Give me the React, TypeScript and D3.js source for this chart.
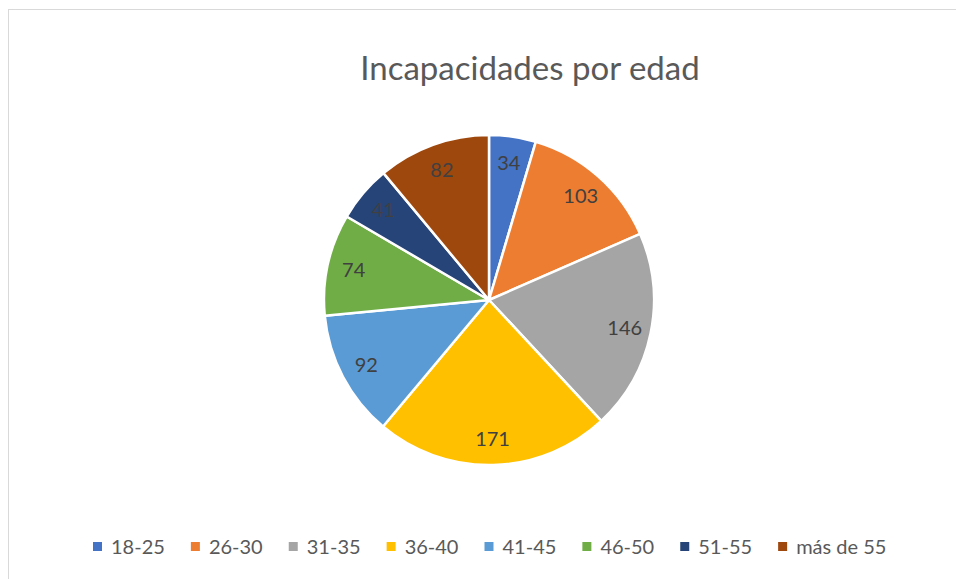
import * as d3 from "d3";
import React from "react";

const WIDTH = 956;
const HEIGHT = 579;

const categories = ["18-25", "26-30", "31-35", "36-40", "41-45", "46-50", "51-55", "más de 55"];
const values = [34, 103, 146, 171, 92, 74, 41, 82];
const colors = ["#4472C4", "#ED7D31", "#A5A5A5", "#FFC000", "#5B9BD5", "#70AD47", "#264478", "#9E480E"];
const title = "Incapacidades por edad";

const CENTER = { x: 489, y: 300 };
const RADIUS = 165;
const FONT = "Lato, 'Open Sans', sans-serif";

type slice = { cat: string; value: number; color: string };

const App: React.FC = () => {
    const data: slice[] = categories.map((c, i) => ({ cat: c, value: values[i], color: colors[i] }));

    const pie = d3
        .pie<slice>()
        .sort(null)
        .value((d) => d.value);
    const arcs = pie(data);

    const arcBuilder = d3.arc<d3.PieArcDatum<slice>>().innerRadius(0).outerRadius(RADIUS);
    // labels sit near the outer edge, like Excel's "best fit"
    const labelArc = d3
        .arc<d3.PieArcDatum<slice>>()
        .innerRadius(RADIUS * 0.84)
        .outerRadius(RADIUS * 0.84);

    // legend layout
    const legendX = d3.scaleBand<string>().domain(categories).range([93, 876]);

    return (
        <svg
            width={WIDTH}
            height={HEIGHT}
            style={{ position: "absolute", left: 0, top: 0, display: "block" }}
        >
            <rect x={0} y={0} width={WIDTH} height={HEIGHT} fill="#ffffff" />
            <rect x={8.5} y={9.5} width={1000} height={700} fill="none" stroke="#d9d9d9" strokeWidth={1} />
            <text
                x={530}
                y={80}
                textAnchor="middle"
                fontFamily={FONT}
                fontSize={33}
                fill="#595959"
            >
                {title}
            </text>
            <g transform={`translate(${CENTER.x},${CENTER.y})`}>
                {arcs.map((a) => (
                    <path
                        key={a.data.cat}
                        d={arcBuilder(a) || ""}
                        fill={a.data.color}
                        stroke="#ffffff"
                        strokeWidth={2.5}
                        strokeLinejoin="round"
                    />
                ))}
                {arcs.map((a) => {
                    const [lx, ly] = labelArc.centroid(a);
                    return (
                        <text
                            key={"l" + a.data.cat}
                            x={lx}
                            y={ly}
                            dy="0.35em"
                            textAnchor="middle"
                            fontFamily={FONT}
                            fontSize={20}
                            fill="#404040"
                        >
                            {a.data.value}
                        </text>
                    );
                })}
            </g>
            <g>
                {categories.map((c, i) => {
                    const x = legendX(c) || 0;
                    return (
                        <g key={"lg" + c} transform={`translate(${x},547)`}>
                            <rect x={0} y={-5} width={9} height={9} fill={colors[i]} />
                            <text
                                x={18}
                                y={0}
                                dy="0.36em"
                                fontFamily={FONT}
                                fontSize={20}
                                fill="#595959"
                            >
                                {c}
                            </text>
                        </g>
                    );
                })}
            </g>
        </svg>
    );
};

export default App;
